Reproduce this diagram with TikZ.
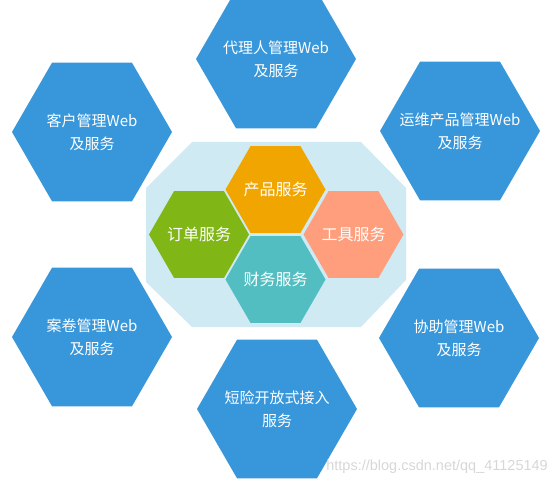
\documentclass[tikz,border=0pt]{standalone}
\usepackage{fontspec}
\setmainfont{Noto Sans CJK SC}
\newfontfamily\wmfont{Liberation Sans}
\usetikzlibrary{shapes.geometric}
\definecolor{hexblue}{RGB}{56,151,218}
\definecolor{panel}{RGB}{208,234,244}
\definecolor{hexorange}{RGB}{240,165,0}
\definecolor{hexgreen}{RGB}{128,182,22}
\definecolor{hexsalmon}{RGB}{254,158,124}
\definecolor{hexteal}{RGB}{82,190,193}
\definecolor{wmgray}{RGB}{215,215,215}
\tikzset{
  bighex/.style={regular polygon, regular polygon sides=6, minimum size=160pt, inner sep=0pt, fill=hexblue, draw=none},
  smallhex/.style={regular polygon, regular polygon sides=6, minimum size=100pt, inner sep=0pt, draw=none},
  bigtxt/.style={text=white, font=\fontsize{15}{23}\selectfont, align=center, inner sep=0pt},
  smalltxt/.style={text=white, font=\fontsize{16}{20}\selectfont, align=center, inner sep=0pt},
}
\begin{document}
\begin{tikzpicture}[x=1pt,y=-1pt]
\useasboundingbox (0,0) rectangle (556,486);
% outer hexagons
\node[bighex] (h1) at (276,59) {};
\node[bighex] (h2) at (92,132) {};
\node[bighex] (h3) at (460,131) {};
\node[bighex] (h4) at (92,337) {};
\node[bighex] (h5) at (459,338) {};
\node[bighex] (h6) at (277,409) {};
\node[bigtxt] (t1) at (h1.center) {代理人管理Web\\及服务};
\node[bigtxt] (t2) at (h2.center) {客户管理Web\\及服务};
\node[bigtxt] (t3) at (h3.center) {运维产品管理Web\\及服务};
\node[bigtxt] (t4) at (h4.center) {案卷管理Web\\及服务};
\node[bigtxt] (t5) at (h5.center) {协助管理Web\\及服务};
\node[bigtxt] (t6) at (h6.center) {短险开放式接入\\服务};
% central panel
\fill[panel] (192,142) -- (361,142) -- (406,188) -- (406,280) -- (361,327) -- (192,327) -- (146,282) -- (146,188) -- cycle;
% inner hexagons
\node[smallhex, fill=hexorange] (s1) at (275.5,189.5) {};
\node[smallhex, fill=hexgreen] (s2) at (199,234.5) {};
\node[smallhex, fill=hexsalmon] (s3) at (353.5,234.5) {};
\node[smallhex, fill=hexteal] (s4) at (275.5,279.5) {};
\node[smalltxt] (u1) at (s1.center) {产品服务};
\node[smalltxt] (u2) at (s2.center) {订单服务};
\node[smalltxt] (u3) at (s3.center) {工具服务};
\node[smalltxt] (u4) at (s4.center) {财务服务};
% watermark
\node[text=wmgray, font=\wmfont\fontsize{14.5}{16}\selectfont, anchor=east, inner sep=0pt] (wm) at (548,467) {https://blog.csdn.net/qq\_41125149};
\end{tikzpicture}
\end{document}
